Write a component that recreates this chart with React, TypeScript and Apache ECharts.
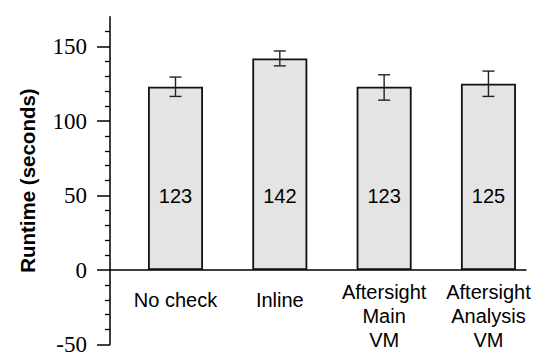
import React, { useEffect, useRef } from "react";
import * as echarts from "echarts";

const categories = ["No check", "Inline", "Aftersight\nMain\nVM", "Aftersight\nAnalysis\nVM"];
const runtimes = [123, 142, 123, 125];
const errLow = [116.5, 137, 114, 116.5];
const errHigh = [129.5, 147, 131, 133.5];
const yMajorTicks = [-50, 0, 50, 100, 150];

const SANS = "Liberation Sans";
const SERIF = "Liberation Serif, Times New Roman, DejaVu Serif, serif";

export default function App() {
  const ref = useRef<HTMLDivElement>(null);
  useEffect(() => {
    const chart = echarts.init(ref.current!, null, { renderer: "svg" });
    chart.setOption({
      animation: false,
      backgroundColor: "#ffffff",
      grid: { left: 110, right: 8, top: 16.7, bottom: 9.5, containLabel: false, outerBoundsMode: "none" },
      xAxis: {
        type: "value",
        min: -0.628,
        max: 3.36,
        splitLine: { show: false },
        axisTick: { show: false },
        axisLabel: { show: false },
        axisLine: { show: true, onZero: true, lineStyle: { color: "#000", width: 1.5 } },
      },
      yAxis: {
        type: "value",
        min: -50,
        max: 170,
        interval: 50,
        position: "left",
        splitLine: { show: false },
        axisLine: { show: true, onZero: false, lineStyle: { color: "#000", width: 1.5 } },
        axisTick: { show: true, length: 13, customValues: yMajorTicks, lineStyle: { color: "#000", width: 1.5 } },
        minorTick: { show: true, splitNumber: 5, length: 5, lineStyle: { color: "#000", width: 1.3 } },
        minorSplitLine: { show: false },
        axisLabel: {
          margin: 23,
          color: "#000",
          fontSize: 23,
          fontFamily: SERIF,
          formatter: (v: number) => (Math.round(v) % 50 === 0 && v <= 150 ? String(v) : ""),
        },
        name: "Runtime (seconds)",
        nameLocation: "middle",
        nameRotate: 90,
        nameGap: 72,
        nameTextStyle: { fontSize: 20.5, fontWeight: "bold", fontFamily: SANS, color: "#000" },
      },
      series: [
        {
          type: "bar",
          barWidth: 55,
          data: runtimes.map((v, i) => [i, v]),
          itemStyle: { color: "#e4e4e4", borderColor: "#111", borderWidth: 1.8 },
          label: {
            show: true,
            position: "insideBottom",
            distance: 64,
            formatter: (p: any) => String(p.value[1]),
            fontSize: 20,
            fontFamily: SANS,
            color: "#000",
          },
        },
        {
          type: "custom",
          data: runtimes.map((_, i) => [i, errLow[i], errHigh[i]]),
          encode: { x: 0, y: [1, 2] },
          z: 5,
          renderItem: (params: any, api: any) => {
            const x = api.value(0);
            const lo = api.coord([x, api.value(1)]);
            const hi = api.coord([x, api.value(2)]);
            const cap = 6;
            const style = { stroke: "#222", lineWidth: 1.4 };
            return {
              type: "group",
              children: [
                { type: "line", shape: { x1: hi[0], y1: hi[1], x2: lo[0], y2: lo[1] }, style },
                { type: "line", shape: { x1: hi[0] - cap, y1: hi[1], x2: hi[0] + cap, y2: hi[1] }, style },
                { type: "line", shape: { x1: lo[0] - cap, y1: lo[1], x2: lo[0] + cap, y2: lo[1] }, style },
              ],
            };
          },
        },
        {
          type: "custom",
          data: categories.map((_, i) => [i, 0]),
          encode: { x: 0, y: 1 },
          z: 6,
          clip: false,
          renderItem: (params: any, api: any) => {
            const i = Math.round(api.value(0));
            const p = api.coord([i, 0]);
            const text = categories[i];
            const single = text.indexOf("\n") < 0;
            return {
              type: "text",
              x: p[0],
              y: p[1] + (single ? 18 : 10),
              style: {
                text,
                fontSize: 20,
                fontFamily: SANS,
                fill: "#000",
                align: "center",
                verticalAlign: "top",
                lineHeight: 24,
              },
            };
          },
        },
      ],
    });
    return () => chart.dispose();
  }, []);
  return <div ref={ref} style={{ position: "fixed", left: 0, top: 0, width: 534, height: 354 }} />;
}
